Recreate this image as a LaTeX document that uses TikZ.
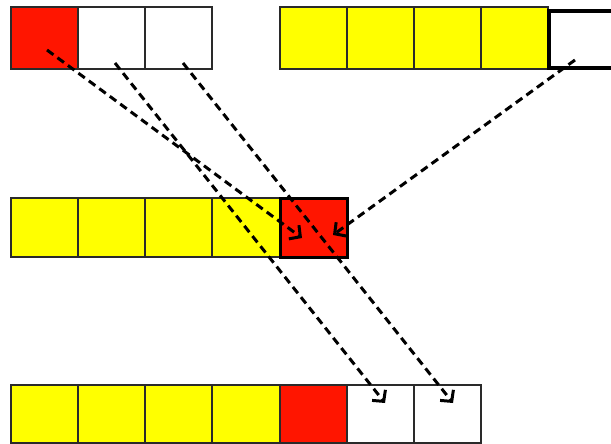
\documentclass[tikz,border=0pt]{standalone}
\usetikzlibrary{arrows.meta}
\definecolor{cred}{HTML}{FF1500}
\definecolor{cyel}{HTML}{FFFF00}
\definecolor{cedge}{HTML}{2A2A2A}
\begin{document}
\begin{tikzpicture}[x=1pt,y=-1pt,
  cell/.style={draw=cedge, line width=1.3pt, inner sep=0pt, minimum width=67pt, minimum height=62pt},
  midcell/.style={cell, minimum height=59pt},
  botcell/.style={cell, minimum height=58pt},
  flow/.style={draw=black, line width=3pt, dash pattern=on 8pt off 5pt, -{Straight Barb[length=8pt,width=17pt,line width=3pt]}}]
\useasboundingbox (0,0) rectangle (611,444);
% top-left row
\node[cell, fill=cred] (a1) at (44.5,38) {};
\node[cell, fill=white] (a2) at (111.5,38) {};
\node[cell, fill=white] (a3) at (178.5,38) {};
% top-right row
\node[cell, fill=cyel] (b1) at (313.5,38) {};
\node[cell, fill=cyel] (b2) at (380.5,38) {};
\node[cell, fill=cyel] (b3) at (447.5,38) {};
\node[cell, fill=cyel] (b4) at (514.5,38) {};
\begin{scope}
\clip (0,0) rectangle (611,444);
\node[draw=black, line width=4pt, fill=white, inner sep=0pt, minimum width=66pt, minimum height=57pt] (b5) at (582,39.5) {};
\end{scope}
% middle row
\node[midcell, fill=cyel] (c1) at (44.5,227.5) {};
\node[midcell, fill=cyel] (c2) at (111.5,227.5) {};
\node[midcell, fill=cyel] (c3) at (178.5,227.5) {};
\node[midcell, fill=cyel] (c4) at (246,227.5) {};
\node[midcell, fill=cred, draw=black, line width=3pt] (c5) at (313.5,227.5) {};
% bottom row
\node[botcell, fill=cyel] (d1) at (44.5,414) {};
\node[botcell, fill=cyel] (d2) at (111.5,414) {};
\node[botcell, fill=cyel] (d3) at (178.5,414) {};
\node[botcell, fill=cyel] (d4) at (246,414) {};
\node[botcell, fill=cred] (d5) at (313.5,414) {};
\node[botcell, fill=white] (d6) at (380.5,414) {};
\node[botcell, fill=white] (d7) at (447.5,414) {};
% arrow endpoints
\coordinate (s1) at (47,50);
\coordinate (e1) at (302,238);
\coordinate (s2) at (115,63);
\coordinate (e2) at (385,403);
\coordinate (s3) at (183,63);
\coordinate (e3) at (453,403);
\coordinate (s4) at (575,60);
\coordinate (e4) at (333,235);
\draw[flow] (s1) -- (e1);
\draw[flow] (s2) -- (e2);
\draw[flow] (s3) -- (e3);
\draw[flow] (s4) -- (e4);
\end{tikzpicture}
\end{document}
